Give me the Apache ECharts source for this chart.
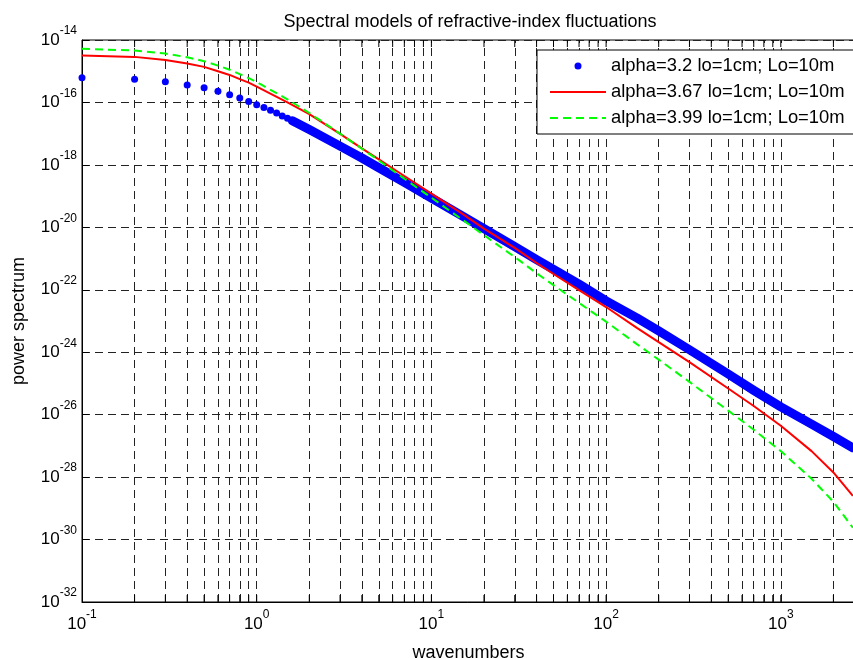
<!DOCTYPE html>
<html>
<head>
<meta charset="utf-8">
<script src="https://cdn.jsdelivr.net/npm/echarts@6/dist/echarts.min.js"></script>
<style>html,body{margin:0;padding:0;background:#fff}#c{width:853px;height:658px}</style>
</head>
<body>
<div id="c"></div>
<script>
// ---- texts ----
const titleText = 'Spectral models of refractive-index fluctuations';
const xName = 'wavenumbers';
const yName = 'power spectrum';
const legendNames = ['alpha=3.2 lo=1cm; Lo=10m', 'alpha=3.67 lo=1cm; Lo=10m', 'alpha=3.99 lo=1cm; Lo=10m'];

// ---- axis ranges / tick labels ----
const xMin = 0.1, xMax = 2659;
const yMin = 1e-32, yMax = 1e-14;
const xTickValues = [0.1, 1, 10, 100, 1000];
const yTickValues = [1e-32, 1e-30, 1e-28, 1e-26, 1e-24, 1e-22, 1e-20, 1e-18, 1e-16, 1e-14];

// ---- data ----
// blue: alpha=3.2, individual dots at low wavenumbers
const blueDotK = [0.1, 0.2, 0.3, 0.4, 0.5, 0.6, 0.7, 0.8, 0.9, 1.0, 1.1, 1.2, 1.3, 1.4, 1.5, 1.6, 1.7, 1.8, 1.9, 2.0];
const blueDotV = [6.2e-16, 5.5e-16, 4.6e-16, 3.6e-16, 2.95e-16, 2.3e-16, 1.78e-16, 1.38e-16, 1.07e-16, 8.5e-17,
                  6.9e-17, 5.6e-17, 4.6e-17, 3.7e-17, 3.1e-17, 2.57e-17, 2.19e-17, 1.86e-17, 1.58e-17, 1.35e-17];
// blue: dense dots merging into a thick band
const blueBandK = [1.6, 2, 3, 4, 5, 7, 10, 15, 20, 30, 40, 50, 70, 100, 150, 200, 300, 500, 700, 1000, 1500, 2000, 2585];
const blueBandV = [2.57e-17, 1.35e-17, 3.98e-18, 1.66e-18, 8.1e-19, 2.75e-19, 8.7e-20, 2.34e-20, 9.1e-21, 2.4e-21,
                   9.3e-22, 4.5e-22, 1.51e-22, 4.4e-23, 1.26e-23, 4.8e-24, 1.2e-24, 2.0e-25, 6.0e-26, 1.78e-26,
                   5.0e-27, 2.0e-27, 8.7e-28];
// red: alpha=3.67 ; green: alpha=3.99
const curveK = [0.1, 0.2, 0.3, 0.4, 0.5, 0.6, 0.7, 0.8, 0.9, 1.0, 1.5, 2, 3, 4, 5, 7, 10, 15, 20, 30, 40, 50, 70,
                100, 150, 200, 300, 500, 700, 1000, 1500, 2000, 2585];
const redV = [3.16e-15, 2.88e-15, 2.29e-15, 1.78e-15, 1.38e-15, 1.0e-15, 7.6e-16, 5.6e-16, 4.3e-16, 3.2e-16,
              1.0e-16, 4.2e-17, 9.8e-18, 3.4e-18, 1.51e-18, 4.4e-19, 1.2e-19, 2.75e-20, 9.1e-21, 2.19e-21,
              7.2e-22, 3.2e-22, 9.8e-23, 2.8e-23, 6.0e-24, 2.1e-24, 4.8e-25, 6.9e-26, 1.9e-26, 4.4e-27,
              6.8e-28, 1.41e-28, 2.5e-29];
const greenV = [5.2e-15, 4.6e-15, 3.7e-15, 2.8e-15, 2.1e-15, 1.51e-15, 1.12e-15, 8.1e-16, 6.0e-16, 4.5e-16,
                1.26e-16, 4.6e-17, 1.0e-17, 3.3e-18, 1.38e-18, 3.6e-19, 8.9e-20, 1.78e-20, 5.6e-21, 1.12e-21,
                3.4e-22, 1.41e-22, 3.8e-23, 9.5e-24, 1.82e-24, 5.8e-25, 1.12e-25, 1.35e-26, 3.3e-27, 6.8e-28,
                8.9e-29, 1.62e-29, 2.4e-30];

// ---- grid / tick positions ----
const xGridValues = [0.2, 0.3, 0.4, 0.5, 0.6, 0.7, 0.8, 0.9, 1, 2, 3, 4, 5, 6, 7, 8, 9, 10,
                     20, 30, 40, 50, 60, 70, 80, 90, 100, 200, 300, 400, 500, 600, 700, 800, 900, 1000, 2000];

const FONT = "'Liberation Sans', Arial, Helvetica, sans-serif";
const zip = (a, b) => a.map((v, i) => [v, b[i]]);

function powLabel(v) {
  const e = Math.round(Math.log10(v));
  return '{b|10}{s|' + e + '}';
}
const rich = {
  b: { fontSize: 17, fontFamily: FONT, color: '#000' },
  s: { fontSize: 12, fontFamily: FONT, color: '#000', padding: [0, 0, 18, 0] }
};
const gridLineStyle = { color: '#222', width: 1, type: [8, 5] };

const chart = echarts.init(document.getElementById('c'), null, { renderer: 'canvas' });
chart.setOption({
  animation: false,
  backgroundColor: '#fff',
  title: {
    text: titleText, left: 465, top: 8, textAlign: 'center',
    textStyle: { fontSize: 18, fontWeight: 'normal', fontFamily: FONT, color: '#000' }
  },
  grid: {
    left: 82, top: 40, width: 773, height: 562, containLabel: false, outerBoundsMode: 'none',
    show: true, borderColor: '#000', borderWidth: 1, backgroundColor: '#fff'
  },
  legend: {
    left: 537, top: 50, orient: 'vertical', z: 20,
    backgroundColor: '#fff', borderColor: '#000', borderWidth: 1, borderRadius: 0,
    padding: [7, 11, 7, 12], itemWidth: 56, itemHeight: 7, itemGap: 8,
    textStyle: { fontSize: 18.4, fontFamily: FONT, color: '#000', lineHeight: 14 },
    selectedMode: false,
    data: [
      { name: legendNames[0] },
      { name: legendNames[1], itemStyle: { opacity: 0 } },
      { name: legendNames[2], itemStyle: { opacity: 0 } }
    ]
  },
  xAxis: {
    type: 'log', logBase: 10, min: xMin, max: xMax, interval: 1,
    name: xName, nameLocation: 'middle', nameGap: 42,
    nameTextStyle: { fontSize: 18, fontFamily: FONT, color: '#000' },
    axisLine: { show: true, onZero: false, lineStyle: { color: '#000', width: 1 } },
    axisTick: { show: false },
    splitLine: { show: false },
    axisLabel: { margin: 7, customValues: xTickValues, hideOverlap: false, formatter: v => powLabel(v), rich: rich }
  },
  yAxis: {
    type: 'log', logBase: 10, min: yMin, max: yMax, interval: 2,
    name: yName, nameLocation: 'middle', nameGap: 54, nameMoveOverlap: false,
    nameTextStyle: { fontSize: 18, fontFamily: FONT, color: '#000' },
    axisLine: { show: true, onZero: false, lineStyle: { color: '#000', width: 1 } },
    axisTick: { show: true, inside: true, length: 7, customValues: yTickValues, lineStyle: { color: '#000' } },
    splitLine: { show: true, lineStyle: gridLineStyle },
    axisLabel: { margin: 5, customValues: yTickValues, hideOverlap: false, showMinLabel: true, showMaxLabel: true,
                 formatter: v => powLabel(v), rich: rich }
  },
  series: [
    {
      name: 'grid', type: 'line', data: [], silent: true, z: 1,
      markLine: {
        z: 1, silent: true, symbol: ['none', 'none'], label: { show: false }, animation: false,
        lineStyle: gridLineStyle,
        emphasis: { disabled: true },
        data: xGridValues.map(v => ({ xAxis: v }))
      }
    },
    {
      name: 'ticks', type: 'custom', silent: true, z: 1,
      data: xGridValues.map(v => [v, yMin]),
      renderItem: function (params, api) {
        const x = api.value(0);
        const b = api.coord([x, yMin]);
        const t = api.coord([x, yMax]);
        return {
          type: 'group', children: [
            { type: 'line', shape: { x1: b[0], y1: b[1], x2: b[0], y2: b[1] - 7 }, style: { stroke: '#000', lineWidth: 1 } },
            { type: 'line', shape: { x1: t[0], y1: t[1], x2: t[0], y2: t[1] + 7 }, style: { stroke: '#000', lineWidth: 1 } }
          ]
        };
      }
    },
    {
      name: legendNames[0], type: 'scatter', z: 3, symbol: 'circle', symbolSize: 7,
      itemStyle: { color: '#0000ff', opacity: 1 },
      data: zip(blueDotK, blueDotV)
    },
    {
      name: 'blue band', type: 'line', z: 3, symbol: 'none', clip: true,
      lineStyle: { color: '#0000ff', width: 9, cap: 'round', join: 'round' },
      itemStyle: { color: '#0000ff' },
      data: zip(blueBandK, blueBandV)
    },
    {
      name: legendNames[1], type: 'line', z: 4, symbol: 'none', clip: true,
      lineStyle: { color: '#ff0000', width: 2 },
      itemStyle: { color: '#ff0000' },
      data: zip(curveK, redV)
    },
    {
      name: legendNames[2], type: 'line', z: 5, symbol: 'none', clip: true,
      lineStyle: { color: '#00ff00', width: 2, type: [8, 5] },
      itemStyle: { color: '#00ff00' },
      data: zip(curveK, greenV)
    }
  ]
});
</script>
</body>
</html>
